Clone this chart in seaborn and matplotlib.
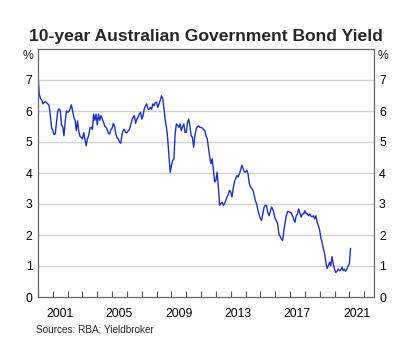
import numpy as np
import pandas as pd
import matplotlib
matplotlib.use("Agg")
import matplotlib.pyplot as plt
import seaborn as sns

# Monthly 10-year yields (%), Jan 2000 - Feb 2021
start_year = 2000
y2000 = [7.14, 6.55, 6.40, 6.36, 6.23, 6.28, 6.30, 6.26, 6.23, 6.17, 5.85, 5.45]
y2001 = [5.37, 5.24, 5.26, 5.65, 6.00, 6.07, 6.02, 5.55, 5.50, 5.20, 5.65, 6.00]
y2002 = [5.96, 5.98, 6.07, 6.20, 6.00, 5.80, 5.70, 5.37, 5.68, 5.35, 5.18, 5.15]
y2003 = [5.10, 5.30, 5.09, 4.88, 5.10, 5.20, 5.45, 5.48, 5.40, 5.90, 5.70, 5.90]
y2004 = [5.55, 5.90, 5.70, 5.85, 5.75, 5.64, 5.52, 5.48, 5.40, 5.28, 5.26, 5.40]
y2005 = [5.45, 5.60, 5.50, 5.25, 5.14, 5.10, 5.00, 4.96, 5.25, 5.38, 5.41, 5.30]
y2006 = [5.30, 5.36, 5.40, 5.55, 5.70, 5.80, 5.85, 5.60, 5.74, 5.80, 5.90, 5.96]
y2007 = [5.74, 5.85, 6.07, 6.17, 6.23, 6.07, 6.05, 6.12, 6.06, 6.23, 6.17, 6.28]
y2008 = [6.28, 6.12, 6.23, 6.35, 6.49, 6.39, 6.06, 5.70, 5.47, 5.10, 4.56, 4.02]
y2009 = [4.24, 4.40, 4.45, 5.26, 5.58, 5.55, 5.47, 5.58, 5.37, 5.50, 5.58, 5.31]
y2010 = [5.31, 5.63, 5.74, 5.50, 5.20, 5.15, 4.83, 5.20, 5.42, 5.50, 5.52, 5.47]
y2011 = [5.47, 5.45, 5.40, 5.37, 5.20, 5.10, 4.80, 4.52, 4.30, 4.46, 4.09, 3.71]
y2012 = [3.76, 4.03, 3.55, 2.96, 3.01, 3.06, 2.96, 3.01, 3.12, 3.23, 3.30, 3.44]
y2013 = [3.39, 3.23, 3.50, 3.71, 3.82, 3.92, 3.87, 3.98, 4.09, 4.25, 4.15, 4.03]
y2014 = [4.03, 4.09, 3.98, 3.66, 3.55, 3.50, 3.44, 3.28, 3.10, 3.00, 2.80, 2.65]
y2015 = [2.53, 2.47, 2.69, 2.90, 2.96, 2.95, 2.73, 2.62, 2.75, 2.90, 2.84, 2.70]
y2016 = [2.52, 2.46, 2.35, 2.03, 1.95, 1.87, 1.82, 2.14, 2.40, 2.62, 2.76, 2.75]
y2017 = [2.73, 2.70, 2.62, 2.50, 2.41, 2.62, 2.68, 2.84, 2.70, 2.57, 2.68, 2.68]
y2018 = [2.78, 2.70, 2.68, 2.62, 2.68, 2.60, 2.59, 2.62, 2.52, 2.62, 2.40, 2.30]
y2019 = [2.15, 1.90, 1.75, 1.55, 1.40, 1.12, 0.92, 1.01, 1.12, 1.01, 1.30, 1.07]
y2020 = [0.90, 0.79, 0.83, 0.90, 0.85, 0.87, 0.96, 0.85, 0.90, 0.83, 0.90, 1.00]
y2021 = [1.07, 1.57]

yields = (y2000 + y2001 + y2002 + y2003 + y2004 + y2005 + y2006 + y2007 + y2008
          + y2009 + y2010 + y2011 + y2012 + y2013 + y2014 + y2015 + y2016
          + y2017 + y2018 + y2019 + y2020 + y2021)

year_labels = ["2001", "2005", "2009", "2013", "2017", "2021"]
y_ticks = [0, 1, 2, 3, 4, 5, 6, 7]

title = "10-year Australian Government Bond Yield"
source = "Sources: RBA; Yieldbroker"

months = np.arange(len(yields))
df = pd.DataFrame({"t": start_year + months / 12.0, "yield": yields})

sns.set_theme(style="white")
plt.rcParams["font.family"] = ["Liberation Sans", "DejaVu Sans"]

fig = plt.figure(figsize=(4.12, 3.5), dpi=100)
ax = fig.add_axes([38 / 412, 1 - 297 / 350, (373.5 - 38) / 412, (297 - 49) / 350])

sns.lineplot(data=df, x="t", y="yield", ax=ax, color="#1c32bf", linewidth=1.0)

ax.set_xlim(2000.0, 2022.63)
ax.set_ylim(0, 8)

for v in y_ticks[1:]:
    ax.axhline(v, color="#d2d2d2", linewidth=1.0, zorder=0)

ax.set_yticks(y_ticks)
ax.set_yticklabels([str(v) for v in y_ticks])
ax.tick_params(axis="y", which="both", length=0, pad=4, labelsize=8.8,
               labelleft=True, labelright=True, colors="black")

ax.set_xticks([int(s) + 0.5 for s in year_labels])
ax.set_xticklabels(year_labels)
ax.set_xticks(np.arange(2000, 2023), minor=True)
ax.tick_params(axis="x", which="major", length=0, pad=8, labelsize=8.8, colors="black")
ax.tick_params(axis="x", which="minor", direction="in", length=4, width=0.8,
               color="#555555", bottom=True, top=False)

for s in ax.spines.values():
    s.set_visible(True)
    s.set_color("#666666")
    s.set_linewidth(0.9)

ax.set_xlabel("")
ax.set_ylabel("")

ax.text(-0.012, 0.995, "%", transform=ax.transAxes, ha="right", va="top", fontsize=8.8)
ax.text(1.012, 0.995, "%", transform=ax.transAxes, ha="left", va="top", fontsize=8.8)

fig.text(206 / 412, 1 - 37 / 350, title, ha="center", va="center",
         fontsize=12.6, fontweight="bold")
fig.text(36 / 412, 1 - 329 / 350, source, ha="left", va="center", fontsize=7.2)

fig.savefig("out.png", dpi=100)
